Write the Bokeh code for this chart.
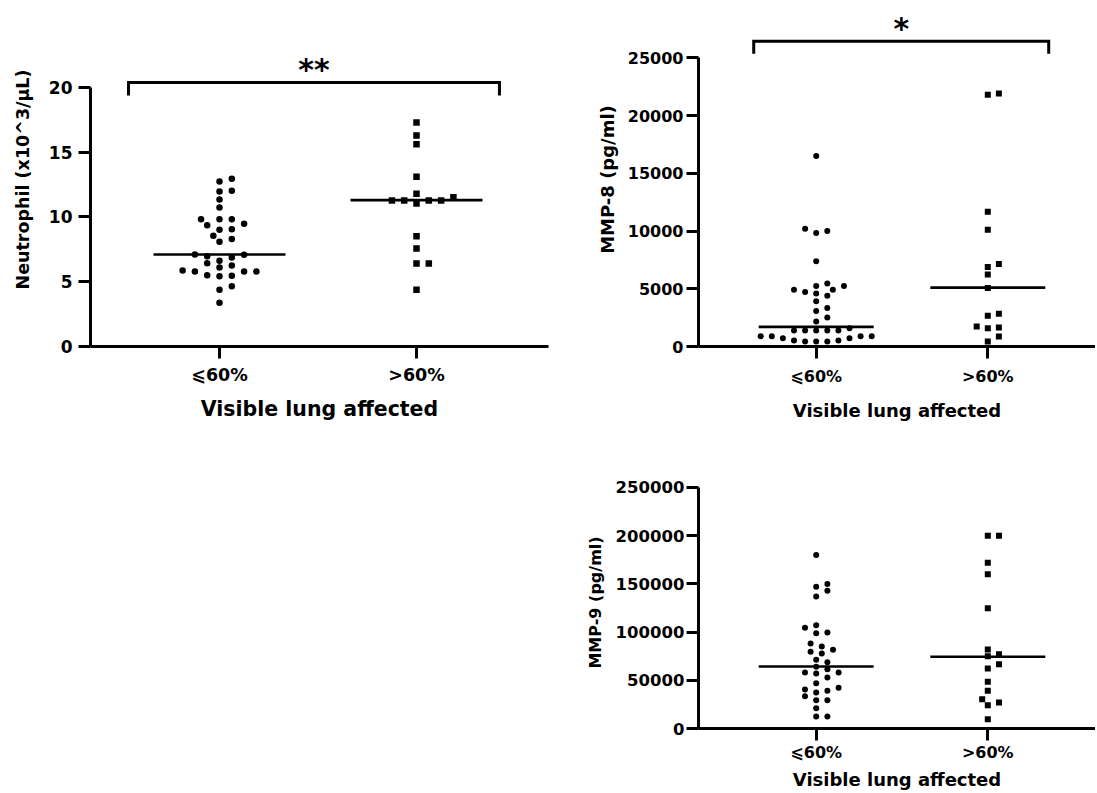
import numpy as np
from bokeh.plotting import figure
from bokeh.layouts import row, column, Spacer
from bokeh.models import FixedTicker, BasicTickFormatter
from bokeh.core.properties import value
from bokeh.embed import file_html
from bokeh.resources import INLINE

# ---------------- data ----------------
groups = ["⩽60%", ">60%"]
x_title = "Visible lung affected"

neut_low = [12.95, 12.74, 12.02, 11.97, 11.35, 10.73, 9.83, 9.83, 9.83, 9.37, 9.47,
            9.06, 9.01, 8.55, 8.31, 8.08, 7.10, 6.97, 7.08, 6.87, 6.62, 6.43, 6.25,
            6.10, 5.87, 5.79, 5.79, 5.79, 5.46, 5.51, 5.43, 4.38, 4.66, 3.37]
neut_high = [17.30, 16.29, 15.62, 13.10, 11.79, 11.53, 11.27, 11.27, 11.27, 11.27,
             11.04, 8.52, 7.57, 6.41, 6.41, 4.38]
neut_median = [7.1, 11.3]
neut_ticks = [0, 5, 10, 15, 20]

mmp8_low = [16500, 10200, 10000, 9820, 7390, 5450, 5240, 5240, 4920, 4920, 4720, 4600,
            4400, 3910, 3330, 3070, 2520, 2170, 1590, 1390, 1390, 1390, 1390, 1390,
            895, 895, 895, 895, 720, 720, 520, 520, 435, 435, 435]
mmp8_high = [21900, 21800, 11670, 10110, 7150, 6890, 6230, 5070, 2840, 2665, 1740,
             1650, 1590, 870, 435]
mmp8_median = [1700, 5100]
mmp8_ticks = [0, 5000, 10000, 15000, 20000, 25000]

mmp9_low = [180000, 150000, 147000, 142800, 136900, 107200, 104400, 99600, 98900,
            88200, 85100, 81600, 79500, 77800, 71200, 68800, 64000, 61500, 58100,
            58100, 57000, 52900, 47000, 42200, 40500, 39100, 37300, 33500, 29400,
            29400, 21000, 12500, 12500]
mmp9_high = [200000, 200000, 171900, 160100, 124800, 82000, 77100, 75000, 66700,
             62200, 48400, 39100, 30400, 27000, 24200, 9650]
mmp9_median = [64300, 74400]
mmp9_ticks = [0, 50000, 100000, 150000, 200000, 250000]

FONT = "DejaVu Sans"
BLACK = "#000000"


def swarm(vals, px_per_unit, step_px, px_per_cat, row_px=6.6):
    """Deterministic beeswarm: horizontal offsets (in category units)."""
    vals = np.asarray(vals, dtype=float)
    order = np.argsort(vals, kind="stable")
    cands = [0.0]
    for k in range(1, 14):
        cands += [k * 0.5, -k * 0.5]
    placed = []
    offs = np.zeros(len(vals))
    for i in order:
        y = vals[i] * px_per_unit
        x = 0.0
        for c in cands:
            x = c * step_px
            if all(((x - qx) / step_px) ** 2 + ((y - qy) / row_px) ** 2 >= 1.0
                   for qx, qy in placed):
                break
        placed.append((x, y))
        offs[i] = x / px_per_cat
    return offs


def make_panel(lo, hi, med, ylabel, yticks, w, h, borders, xr, yr, px_y, px_cat, step,
               tick_fs, ylab_fs, xtick_fs, xlab_fs, ytick_sd, ylab_sd, xtick_sd, xlab_sd,
               bracket=None, stars=None, msize=6):
    p = figure(width=w, height=h, x_range=xr, y_range=yr, output_backend="svg",
               toolbar_location=None, min_border_left=borders[0],
               min_border_right=borders[1], min_border_top=borders[2],
               min_border_bottom=borders[3])
    p.outline_line_color = None
    p.grid.visible = False
    p.background_fill_color = "white"
    p.border_fill_color = "white"

    # medians
    p.segment(x0=[0 - 0.335, 1 - 0.335], x1=[0 + 0.335, 1 + 0.335], y0=med, y1=med,
              line_width=2.6, line_color=BLACK)

    # points
    xo_lo = swarm(lo, px_y, step, px_cat)
    xo_hi = swarm(hi, px_y, step, px_cat)
    p.scatter(x=0 + xo_lo, y=lo, marker="circle", size=msize, fill_color=BLACK,
              line_color=None)
    p.scatter(x=1 + xo_hi, y=hi, marker="square", size=msize, fill_color=BLACK,
              line_color=None)

    if bracket is not None:
        bx0, bx1, by0, by1 = bracket
        p.line(x=[bx0, bx0, bx1, bx1], y=[by0, by1, by1, by0], line_width=3,
               line_color=BLACK, line_join="miter")
        p.text(x=[(bx0 + bx1) / 2], y=[by1], text=[stars], text_font=value(FONT),
               text_font_style="bold", text_font_size="30px", text_align="center",
               text_baseline="alphabetic", text_color=BLACK, y_offset=-13)

    p.xaxis.ticker = FixedTicker(ticks=[0, 1])
    p.xaxis.major_label_overrides = {0: groups[0], 1: groups[1]}
    p.xaxis.axis_label = x_title
    p.yaxis.ticker = FixedTicker(ticks=yticks)
    p.yaxis.formatter = BasicTickFormatter(use_scientific=False)
    p.yaxis.bounds = (yticks[0], yticks[-1])
    p.yaxis.axis_label = ylabel

    for ax in p.axis:
        ax.axis_line_width = 3
        ax.axis_line_color = BLACK
        ax.major_tick_line_width = 3
        ax.major_tick_line_color = BLACK
        ax.major_tick_out = 12
        ax.major_tick_in = 0
        ax.minor_tick_line_color = None
        ax.major_label_text_font = FONT
        ax.major_label_text_font_style = "bold"
        ax.major_label_text_color = BLACK
        ax.axis_label_text_font = FONT
        ax.axis_label_text_font_style = "bold"
        ax.axis_label_text_color = BLACK

    p.yaxis.major_label_text_font_size = f"{tick_fs}px"
    p.yaxis.axis_label_text_font_size = f"{ylab_fs}px"
    p.yaxis.major_label_standoff = ytick_sd
    p.yaxis.axis_label_standoff = ylab_sd
    p.xaxis.major_label_text_font_size = f"{xtick_fs}px"
    p.xaxis.axis_label_text_font_size = f"{xlab_fs}px"
    p.xaxis.major_label_standoff = xtick_sd
    p.xaxis.axis_label_standoff = xlab_sd
    return p


# Neutrophil panel (top-left); frames of the top row share top (12) and bottom (346)
f1 = make_panel(neut_low, neut_high, neut_median, "Neutrophil (x10^3/µL)", neut_ticks,
                w=560, h=426, borders=(90, 12, 12, 80),
                xr=(-0.6548, 1.670), yr=(0, 25.79), px_y=12.95, px_cat=197.0, step=12.3,
                tick_fs=17, ylab_fs=17.5, xtick_fs=17.5, xlab_fs=20.5,
                ytick_sd=6, ylab_sd=13, xtick_sd=6, xlab_sd=9,
                bracket=(-0.462, 1.421, 19.38, 20.39), stars="**", msize=6.5)

# MMP-8 panel (top-right)
f2 = make_panel(mmp8_low, mmp8_high, mmp8_median, "MMP-8 (pg/ml)", mmp8_ticks,
                w=535, h=426, borders=(138, 0, 12, 80),
                xr=(-0.6859, 1.6277), yr=(0, 28924), px_y=1 / 86.6, px_cat=171.6, step=11.1,
                tick_fs=16, ylab_fs=18, xtick_fs=16, xlab_fs=18,
                ytick_sd=3, ylab_sd=7, xtick_sd=8, xlab_sd=11,
                bracket=(-0.364, 1.355, 25348, 26439), stars="*", msize=6)

# MMP-9 panel (bottom-right)
f3 = make_panel(mmp9_low, mmp9_high, mmp9_median, "MMP-9 (pg/ml)", mmp9_ticks,
                w=535, h=366, borders=(138, 0, 50, 64),
                xr=(-0.6859, 1.6277), yr=(0, 261400), px_y=241 / 250000, px_cat=171.6,
                step=11.2, tick_fs=16.5, ylab_fs=16, xtick_fs=16, xlab_fs=18,
                ytick_sd=2, ylab_sd=8, xtick_sd=2, xlab_sd=4, msize=6)

layout = column(row(f1, f2), row(Spacer(width=560, height=366), f3))

open("out.html", "w").write(file_html(layout, INLINE))
